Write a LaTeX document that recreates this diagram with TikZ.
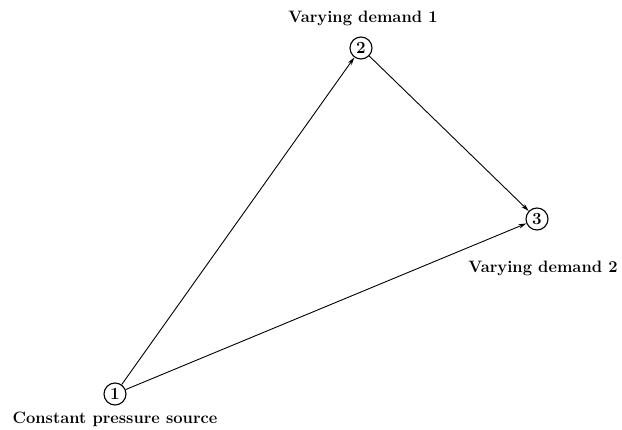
\documentclass[tikz,border=0pt]{standalone}
\usetikzlibrary{arrows.meta}
\begin{document}
\begin{tikzpicture}[x=1pt,y=-1pt,
  junction/.style={circle,draw,line width=1.1pt,minimum size=22pt,inner sep=0pt,font=\bfseries\fontsize{17}{18}\selectfont},
  lbl/.style={font=\bfseries\fontsize{16.5}{19}\selectfont,inner sep=0pt},
  pipe/.style={line width=0.9pt,-{Stealth[length=8pt,width=4.5pt]}}]
\useasboundingbox (0,0) rectangle (622,430);
\node[junction] (n1) at (115,394) {1};
\node[junction] (n2) at (361,48) {2};
\node[junction] (n3) at (537,219) {3};
\node[lbl] (l2) at (363,18) {Varying demand 1};
\node[lbl] (l3) at (543,268) {Varying demand 2};
\node[lbl] (l1) at (115,419) {Constant pressure source};
\draw[pipe] (n1) -- (n2);
\draw[pipe] (n2) -- (n3);
\draw[pipe] (n1) -- (n3);
\end{tikzpicture}
\end{document}
